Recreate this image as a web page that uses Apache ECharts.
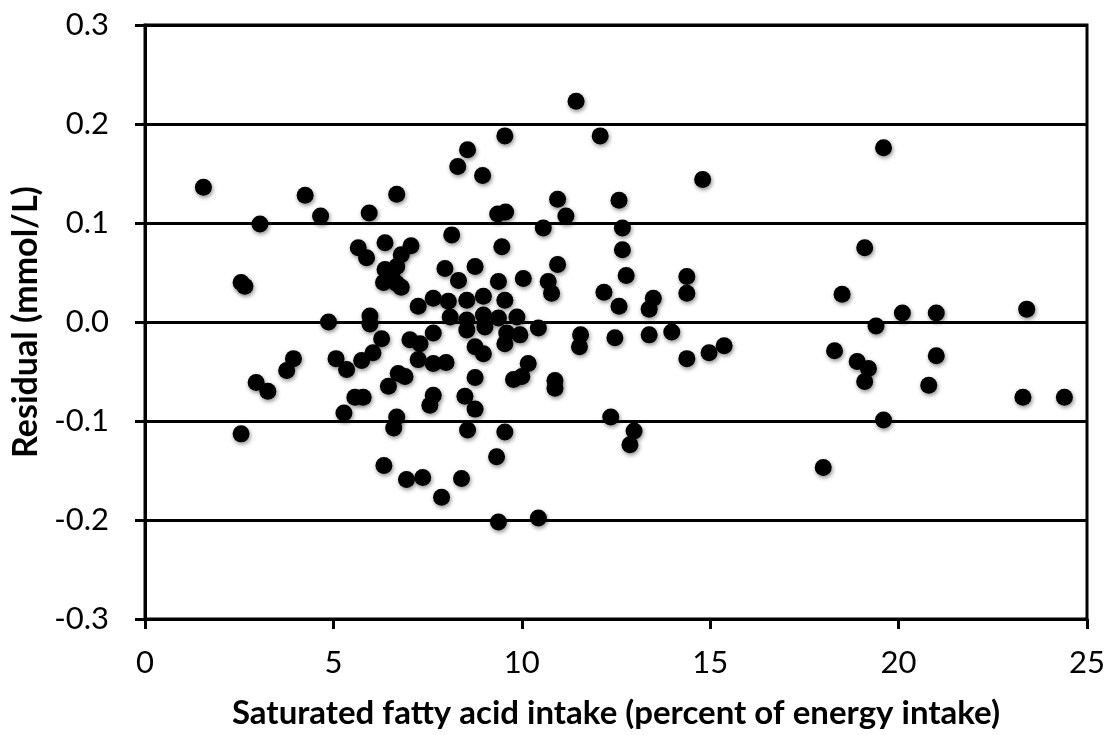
<!DOCTYPE html>
<html>
<head>
<meta charset="utf-8">
<script src="https://cdn.jsdelivr.net/npm/echarts@6/dist/echarts.min.js"></script>
<style>
  html, body { margin: 0; padding: 0; background: #fff; }
  #chart { width: 1113px; height: 735px; }
</style>
</head>
<body>
<div id="chart"></div>
<script>
// saturated fatty acid intake (% of energy)
const satFat = [
  1.55, 2.55, 2.65, 2.55, 2.95, 3.26, 3.05, 3.76, 3.94, 4.25,
  4.66, 4.87, 5.07, 5.28, 5.35, 5.57, 5.79, 5.66, 5.88, 5.75,
  5.95, 5.97, 5.97, 6.05, 6.28, 6.37, 6.34, 6.37, 6.33, 6.46,
  6.68, 6.68, 6.68, 6.72, 6.68, 6.60, 6.80, 6.90, 6.94, 7.06,
  7.03, 7.25, 7.25, 7.30, 7.37, 7.56, 7.65, 7.65, 7.65, 7.65,
  7.87, 7.96, 7.99, 8.05, 8.10, 8.14, 8.30, 8.32, 8.40, 8.49,
  8.56, 8.54, 8.54, 8.54, 8.56, 8.76, 8.76, 8.76, 8.76, 8.96,
  8.98, 8.98, 8.98, 9.02, 9.33, 9.36, 9.38, 9.38, 9.38, 9.47,
  9.55, 9.57, 9.55, 9.55, 9.55, 9.60, 9.78, 9.87, 9.95, 10.04,
  10.17, 10.00, 10.44, 10.44, 10.57, 10.70, 10.79, 10.88, 10.88, 10.95,
  10.95, 11.17, 11.44, 11.56, 11.53, 12.08, 12.18, 12.36, 12.47, 12.58,
  12.58, 12.67, 12.67, 12.77, 12.98, 12.87, 13.38, 13.38, 13.49, 13.98,
  14.38, 14.38, 14.38, 14.80, 14.97, 15.37, 6.55, 6.80,
  18.0, 18.3, 18.5, 18.9, 19.1, 19.1, 19.2, 19.4, 19.6, 19.6,
  20.1, 20.8, 21.0, 21.0, 23.3, 23.4, 24.4
];
// residual (mmol/L)
const residual = [
  0.136, 0.040, 0.036, -0.113, -0.061, -0.070, 0.099, -0.049, -0.037, 0.128,
  0.107, 0.000, -0.037, -0.092, -0.048, -0.076, -0.076, 0.075, 0.065, -0.039,
  0.110, 0.006, -0.002, -0.031, -0.017, 0.080, -0.145, 0.053, 0.040, -0.065,
  0.056, 0.039, 0.129, -0.052, -0.096, -0.107, 0.068, -0.055, -0.159, 0.077,
  -0.018, 0.016, -0.038, -0.022, -0.157, -0.084, -0.074, 0.024, -0.011, -0.042,
  -0.177, 0.054, -0.041, 0.021, 0.005, 0.088, 0.157, 0.042, -0.158, -0.075,
  0.174, 0.022, 0.002, -0.008, -0.109, 0.056, -0.025, -0.056, -0.088, 0.148,
  0.026, 0.007, -0.032, -0.005, -0.136, 0.109, -0.202, 0.041, 0.004, 0.076,
  0.188, 0.111, 0.022, -0.022, -0.111, -0.011, -0.058, 0.005, -0.013, 0.044,
  -0.042, -0.055, -0.198, -0.006, 0.095, 0.041, 0.029, -0.059, -0.067, 0.124,
  0.058, 0.107, 0.223, -0.013, -0.025, 0.188, 0.030, -0.096, -0.016, 0.123,
  0.016, 0.095, 0.073, 0.047, -0.110, -0.124, 0.013, -0.013, 0.024, -0.010,
  0.046, 0.029, -0.037, 0.144, -0.031, -0.024, 0.047, 0.035,
  -0.147, -0.029, 0.028, -0.040, 0.075, -0.060, -0.047, -0.004, 0.176, -0.099,
  0.009, -0.064, 0.009, -0.034, -0.076, 0.013, -0.076
];

const points = satFat.map((x, i) => [x, residual[i]]);

const chart = echarts.init(document.getElementById('chart'));
const txt = { color: '#000', fontFamily: 'Lato', fontSize: 31 };

chart.setOption({
  animation: false,
  grid: {
    left: 145, right: 26, top: 25, bottom: 116,
    show: true, borderColor: '#000', borderWidth: 3
  },
  xAxis: {
    type: 'value', min: 0, max: 25, interval: 5,
    name: 'Saturated fatty acid intake (percent of energy intake)',
    nameLocation: 'middle', nameGap: 78,
    nameTextStyle: { color: '#000', fontFamily: 'Lato', fontSize: 33, fontWeight: 'bold' },
    axisLine: { onZero: false, lineStyle: { color: '#000', width: 3 } },
    axisTick: { show: true, length: 10, lineStyle: { color: '#000', width: 3 } },
    axisLabel: Object.assign({ margin: 28 }, txt),
    splitLine: { show: false }
  },
  yAxis: {
    type: 'value', min: -0.3, max: 0.3, interval: 0.1,
    name: 'Residual (mmol/L)',
    nameLocation: 'middle', nameGap: 100,
    nameTextStyle: { color: '#000', fontFamily: 'Lato', fontSize: 34, fontWeight: 'bold' },
    axisLine: { show: true, lineStyle: { color: '#000', width: 3 } },
    axisTick: { show: true, length: 10, lineStyle: { color: '#000', width: 3 } },
    axisLabel: Object.assign({ margin: 36, formatter: v => v.toFixed(1) }, txt),
    splitLine: { show: true, lineStyle: { color: '#000', width: 3 } }
  },
  series: [{
    type: 'scatter',
    data: points,
    symbolSize: 17,
    itemStyle: {
      color: '#000',
      opacity: 1,
      shadowColor: 'rgba(0,0,0,0.45)',
      shadowBlur: 4,
      shadowOffsetX: 1,
      shadowOffsetY: 2
    }
  }]
});
</script>
</body>
</html>
